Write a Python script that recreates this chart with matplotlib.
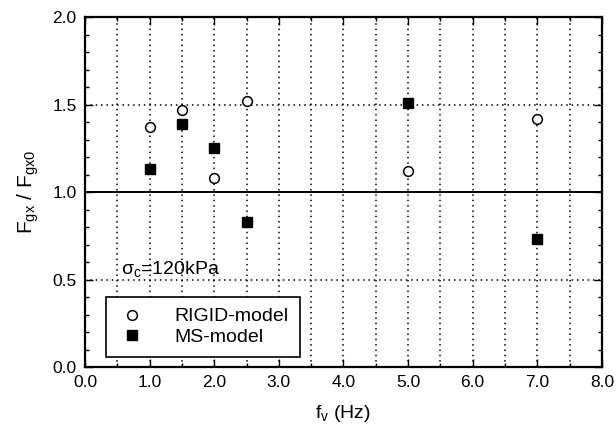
import matplotlib
matplotlib.use('Agg')
import matplotlib.pyplot as plt
from matplotlib.ticker import MultipleLocator

plt.rcParams['font.family'] = ['Liberation Sans', 'DejaVu Sans']
plt.rcParams['mathtext.fontset'] = 'custom'
plt.rcParams['mathtext.rm'] = 'Liberation Sans'

# frequency (Hz) and normalised force
rigid_f = [1.0, 1.5, 2.0, 2.5, 5.0, 7.0]
rigid_ratio = [1.37, 1.47, 1.08, 1.52, 1.12, 1.42]
ms_f = [1.0, 1.5, 2.0, 2.5, 5.0, 7.0]
ms_ratio = [1.13, 1.39, 1.25, 0.83, 1.51, 0.73]

fig = plt.figure(figsize=(6.16, 4.36), dpi=100)
ax = fig.add_axes([0.138, 0.158, 0.839, 0.803])

ax.set_xlim(0, 8)
ax.set_ylim(0, 2)
ax.xaxis.set_major_locator(MultipleLocator(1.0))
ax.xaxis.set_minor_locator(MultipleLocator(0.5))
ax.yaxis.set_major_locator(MultipleLocator(0.5))
ax.yaxis.set_minor_locator(MultipleLocator(0.1))
ax.xaxis.set_major_formatter(plt.FormatStrFormatter('%.1f'))
ax.yaxis.set_major_formatter(plt.FormatStrFormatter('%.1f'))

# dotted grid at every 0.5 on both axes
for xv in [i * 0.5 for i in range(1, 16)]:
    ax.axvline(xv, color='black', linestyle=(0, (1, 2.5)), linewidth=1.1, zorder=1)
for yv in [0.5, 1.5]:
    ax.axhline(yv, color='black', linestyle=(0, (1, 2.5)), linewidth=1.1, zorder=1)
ax.axhline(1.0, color='black', linewidth=1.4, zorder=2)

ax.tick_params(which='both', direction='in', top=True, right=True,
               labelsize=12.5, width=1.0, pad=6)
ax.tick_params(which='major', length=6)
ax.tick_params(which='minor', length=3)
for s in ax.spines.values():
    s.set_linewidth(1.6)

ax.plot(rigid_f, rigid_ratio, linestyle='none', marker='o', markersize=7,
        markerfacecolor='white', markeredgecolor='black', markeredgewidth=1.1,
        label='RIGID-model', zorder=4)
ax.plot(ms_f, ms_ratio, linestyle='none', marker='s', markersize=7.5,
        color='black', label='MS-model', zorder=4)

ax.text(0.55, 0.53, r'$\mathregular{\sigma_c}$=120kPa', fontsize=14, zorder=5)

leg = ax.legend(loc='lower left', bbox_to_anchor=(0.04, 0.03), fontsize=14,
                frameon=True, fancybox=False, edgecolor='black', framealpha=1,
                handlelength=1.6, borderpad=0.55, labelspacing=0.15,
                handletextpad=1.4, borderaxespad=0)
leg.get_frame().set_linewidth(1.2)

ax.set_xlabel(r'f$_{\mathregular{v}}$ (Hz)', fontsize=14, labelpad=9)
ax.set_ylabel(r'F$_{\mathregular{gx}}$ / F$_{\mathregular{gx0}}$', fontsize=15, labelpad=8)

fig.savefig('out.png', dpi=100)
